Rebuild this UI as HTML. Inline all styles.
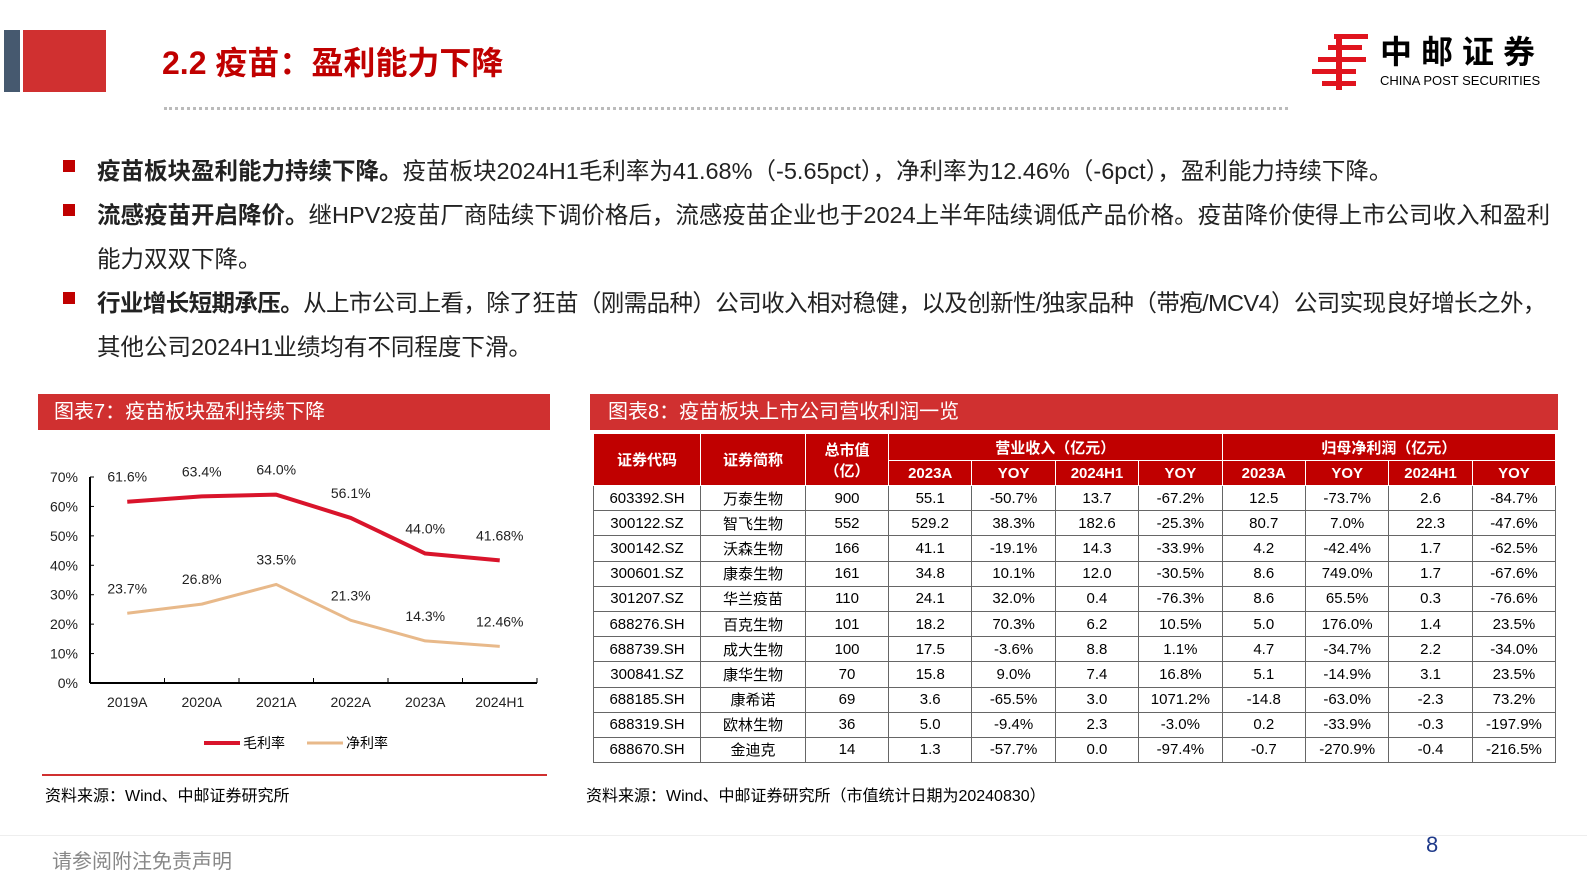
<!DOCTYPE html>
<html><head><meta charset="utf-8">
<style>
body{margin:0;width:1587px;height:892px;background:#fff;font-family:"Liberation Sans","Noto Sans CJK SC",sans-serif;position:relative;overflow:hidden}
.a{position:absolute}
.b{font-size:23.5px;color:#222;white-space:nowrap}
.b b{font-weight:bold}
.sq{width:12px;height:12px;background:#c00000}
table{border-collapse:collapse;font-size:15px;table-layout:fixed}
td{border:1px solid #666;text-align:center;padding:0;height:24px;white-space:nowrap}
th{background:#c00000;color:#fff;border:1px solid #fff;font-weight:bold;font-size:15px;padding:0}
</style></head><body>
<div class="a" style="left:4px;top:30px;width:16px;height:62px;background:#46596f"></div>
<div class="a" style="left:23px;top:30px;width:83px;height:62px;background:#d03030"></div>
<div class="a" style="left:162px;top:38px;font-size:32px;font-weight:bold;color:#c00000">2.2 疫苗：盈利能力下降</div>
<div class="a" style="left:164px;top:107px;width:1124px;border-top:3px dotted #bbb"></div>
<svg class="a" style="left:1312px;top:34px" width="56" height="56"><g fill="#e0141e"><rect x="22" y="0" width="34" height="5"/><rect x="16" y="11" width="34" height="5"/><rect x="6" y="23" width="48" height="5"/><rect x="0" y="35" width="44" height="5"/><rect x="10" y="47" width="34" height="5"/><rect x="24" y="0" width="6" height="56"/></g></svg>
<div class="a" style="left:1380px;top:34px;font-size:32px;line-height:36px;font-weight:bold;letter-spacing:9px">中邮证券</div>
<div class="a" style="left:1380px;top:73px;font-size:13px">CHINA POST SECURITIES</div>

<div class="a sq" style="left:63px;top:160px"></div>
<div class="a b" style="left:97px;top:152px"><b>疫苗板块盈利能力持续下降。</b>疫苗板块2024H1毛利率为41.68%（-5.65pct），净利率为12.46%（-6pct），盈利能力持续下降。</div>
<div class="a sq" style="left:63px;top:204px"></div>
<div class="a b" style="left:97px;top:196px"><b>流感疫苗开启降价。</b>继HPV2疫苗厂商陆续下调价格后，流感疫苗企业也于2024上半年陆续调低产品价格。疫苗降价使得上市公司收入和盈利</div>
<div class="a b" style="left:97px;top:240px">能力双双下降。</div>
<div class="a sq" style="left:63px;top:292px"></div>
<div class="a b" style="left:97px;top:284px;letter-spacing:-0.6px"><b>行业增长短期承压。</b>从上市公司上看，除了狂苗（刚需品种）公司收入相对稳健，以及创新性/独家品种（带疱/MCV4）公司实现良好增长之外，</div>
<div class="a b" style="left:97px;top:328px">其他公司2024H1业绩均有不同程度下滑。</div>

<div class="a" style="left:38px;top:394px;width:512px;height:36px;background:#d03030;color:#fff;font-size:20px;line-height:36px;padding-left:16px;box-sizing:border-box">图表7：疫苗板块盈利持续下降</div>
<svg class="a" id="chart" style="left:0;top:0" width="560" height="780"></svg>
<div class="a" style="left:42px;top:774px;width:505px;border-top:2px solid #d03030"></div>
<div class="a" style="left:45px;top:782px;font-size:16px">资料来源：Wind、中邮证券研究所</div>

<div class="a" style="left:590px;top:394px;width:968px;height:36px;background:#d03030;color:#fff;font-size:20px;line-height:36px;padding-left:18px;box-sizing:border-box">图表8：疫苗板块上市公司营收利润一览</div>
<table class="a" id="tbl" style="left:593px;top:433px;width:962px">
<colgroup><col style="width:107px"><col style="width:105px"><col style="width:83px"><col span="8" style="width:83.4px"></colgroup>
<tr style="height:27px"><th rowspan="2">证券代码</th><th rowspan="2">证券简称</th><th rowspan="2">总市值<br>（亿）</th><th colspan="4">营业收入（亿元）</th><th colspan="4">归母净利润（亿元）</th></tr>
<tr style="height:25px"><th>2023A</th><th>YOY</th><th>2024H1</th><th>YOY</th><th>2023A</th><th>YOY</th><th>2024H1</th><th>YOY</th></tr>
</table>
<div class="a" style="left:586px;top:782px;font-size:16px">资料来源：Wind、中邮证券研究所（市值统计日期为20240830）</div>
<div class="a" style="left:0;top:835px;width:1587px;border-top:1px solid #eee"></div>
<div class="a" style="left:52px;top:845px;font-size:20px;color:#888">请参阅附注免责声明</div>
<div class="a" style="left:1426px;top:832px;font-size:22px;color:#1f3a8a">8</div>
<script>
const categories=["2019A","2020A","2021A","2022A","2023A","2024H1"];
const grossMargin=[61.6,63.4,64.0,56.1,44.0,41.68];
const netMargin=[23.7,26.8,33.5,21.3,14.3,12.46];
const grossLabels=["61.6%","63.4%","64.0%","56.1%","44.0%","41.68%"];
const netLabels=["23.7%","26.8%","33.5%","21.3%","14.3%","12.46%"];
const yTicks=[0,10,20,30,40,50,60,70];
const svg=document.getElementById('chart');const NS='http://www.w3.org/2000/svg';
const x0=90,x1=537,y0=683,yTop=477;
const xs=i=>x0+(x1-x0)/categories.length*(i+0.5);
const ys=v=>y0-(y0-yTop)*v/70;
function mk(t,a,txt){const e=document.createElementNS(NS,t);for(const k in a)e.setAttribute(k,a[k]);if(txt!==undefined)e.textContent=txt;svg.appendChild(e);return e;}
let e=mk('line',{x1:x0,y1:y0,x2:x1,y2:y0,stroke:'#000','stroke-width':2});

e=mk('line',{x1:x0,y1:y0,x2:x0,y2:yTop,stroke:'#000','stroke-width':2});

yTicks.forEach(v=>{e=mk('text',{x:78,y:ys(v)+5,'text-anchor':'end','font-size':14,fill:'#222'},v+'%');

mk('line',{x1:x0,y1:ys(v),x2:x0+4,y2:ys(v),stroke:'#000'});});
categories.forEach((c,i)=>{e=mk('text',{x:xs(i),y:707,'text-anchor':'middle','font-size':14,fill:'#222'},c);

const tx=x0+(x1-x0)/categories.length*(i+1);mk('line',{x1:tx,y1:y0,x2:tx,y2:y0-5,stroke:'#000'});});
function series(vals,labels,color,w,name){
e=mk('polyline',{points:vals.map((v,i)=>xs(i)+','+ys(v)).join(' '),fill:'none',stroke:color,'stroke-width':w,'stroke-linejoin':'round'});

vals.forEach((v,i)=>{e=mk('text',{x:xs(i),y:ys(v)-20,'text-anchor':'middle','font-size':14,fill:'#222'},labels[i]);
});}
series(grossMargin,grossLabels,'#d9142b',4,'gross-margin-line');
series(netMargin,netLabels,'#e8b98a',3,'net-margin-line');
mk('line',{x1:204,y1:743,x2:240,y2:743,stroke:'#d9142b','stroke-width':4});
e=mk('text',{x:243,y:748,'font-size':14},'毛利率');
mk('line',{x1:307,y1:743,x2:343,y2:743,stroke:'#e8b98a','stroke-width':3});
e=mk('text',{x:346,y:748,'font-size':14},'净利率');

const rows=[["603392.SH","万泰生物","900","55.1","-50.7%","13.7","-67.2%","12.5","-73.7%","2.6","-84.7%"],
["300122.SZ","智飞生物","552","529.2","38.3%","182.6","-25.3%","80.7","7.0%","22.3","-47.6%"],
["300142.SZ","沃森生物","166","41.1","-19.1%","14.3","-33.9%","4.2","-42.4%","1.7","-62.5%"],
["300601.SZ","康泰生物","161","34.8","10.1%","12.0","-30.5%","8.6","749.0%","1.7","-67.6%"],
["301207.SZ","华兰疫苗","110","24.1","32.0%","0.4","-76.3%","8.6","65.5%","0.3","-76.6%"],
["688276.SH","百克生物","101","18.2","70.3%","6.2","10.5%","5.0","176.0%","1.4","23.5%"],
["688739.SH","成大生物","100","17.5","-3.6%","8.8","1.1%","4.7","-34.7%","2.2","-34.0%"],
["300841.SZ","康华生物","70","15.8","9.0%","7.4","16.8%","5.1","-14.9%","3.1","23.5%"],
["688185.SH","康希诺","69","3.6","-65.5%","3.0","1071.2%","-14.8","-63.0%","-2.3","73.2%"],
["688319.SH","欧林生物","36","5.0","-9.4%","2.3","-3.0%","0.2","-33.9%","-0.3","-197.9%"],
["688670.SH","金迪克","14","1.3","-57.7%","0.0","-97.4%","-0.7","-270.9%","-0.4","-216.5%"]];
const tb=document.getElementById('tbl');
rows.forEach(r=>{const tr=document.createElement('tr');tr.style.height='25.2px';


r.forEach(c=>{const td=document.createElement('td');td.textContent=c;tr.appendChild(td);});tb.appendChild(tr);});
</script>
</body></html>
